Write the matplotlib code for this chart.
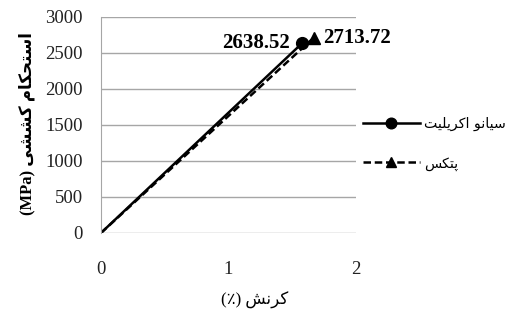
import matplotlib
matplotlib.use('Agg')
import matplotlib.pyplot as plt

# tensile strength vs strain, end points
cyano_strain = [0, 1.58]
cyano_stress = [0, 2638.52]
pattex_strain = [0, 1.67]
pattex_stress = [0, 2713.72]
y_ticks = [0, 500, 1000, 1500, 2000, 2500, 3000]
x_ticks = [0, 1, 2]

# matplotlib has no arabic shaping, so map letters to presentation forms by hand
# (isolated, final, initial, medial); None = does not join to the next letter
FORMS = {
    '\u0627': ('\uFE8D', '\uFE8E', None, None),
    '\u0633': ('\uFEB1', '\uFEB2', '\uFEB3', '\uFEB4'),
    '\u062A': ('\uFE95', '\uFE96', '\uFE97', '\uFE98'),
    '\u062D': ('\uFEA1', '\uFEA2', '\uFEA3', '\uFEA4'),
    '\u06A9': ('\uFB8E', '\uFB8F', '\uFB90', '\uFB91'),
    '\u0645': ('\uFEE1', '\uFEE2', '\uFEE3', '\uFEE4'),
    '\u0634': ('\uFEB5', '\uFEB6', '\uFEB7', '\uFEB8'),
    '\u06CC': ('\uFBFC', '\uFBFD', '\uFBFE', '\uFBFF'),
    '\u0631': ('\uFEAD', '\uFEAE', None, None),
    '\u0646': ('\uFEE5', '\uFEE6', '\uFEE7', '\uFEE8'),
    '\u0644': ('\uFEDD', '\uFEDE', '\uFEDF', '\uFEE0'),
    '\u0648': ('\uFEED', '\uFEEE', None, None),
    '\u067E': ('\uFB56', '\uFB57', '\uFB58', '\uFB59'),
}


def shape(text):
    out = []
    for i, ch in enumerate(text):
        if ch not in FORMS:
            out.append(ch)
            continue
        prev = text[i - 1] if i > 0 else ''
        nxt = text[i + 1] if i + 1 < len(text) else ''
        join_prev = prev in FORMS and FORMS[prev][2] is not None
        join_next = FORMS[ch][2] is not None and nxt in FORMS
        f = FORMS[ch]
        if join_prev and join_next:
            out.append(f[3])
        elif join_next:
            out.append(f[2])
        elif join_prev:
            out.append(f[1])
        else:
            out.append(f[0])
    return ''.join(out)[::-1]


MIXED = ['Liberation Serif', 'DejaVu Sans']

fig = plt.figure(figsize=(5.15, 3.09), dpi=100)
ax = fig.add_axes([0.196, 0.246, 0.495, 0.699])

ax.plot(cyano_strain, cyano_stress, color='black', lw=1.8, marker='o',
        markersize=8.5, markevery=[1], label=shape('سیانو اکریلیت'))
ax.plot(pattex_strain, pattex_stress, color='black', lw=1.8, ls=(0, (3, 1.5)),
        marker='^', markersize=8.5, markevery=[1], label=shape('پتکس'))

ax.annotate('2638.52', (cyano_strain[-1], cyano_stress[-1]), xytext=(-9, 0),
            textcoords='offset points', ha='right', va='center',
            family='Liberation Serif', weight='bold', fontsize=15)
ax.annotate('2713.72', (pattex_strain[-1], pattex_stress[-1]), xytext=(7, 0),
            textcoords='offset points', ha='left', va='center',
            family='Liberation Serif', weight='bold', fontsize=15)

ax.set_xlim(0, 2)
ax.set_ylim(0, 3000)
ax.set_xticks(x_ticks)
ax.set_yticks(y_ticks)
ax.grid(axis='y', color='#a6a6a6', lw=1)
ax.set_axisbelow(True)
for s in ['top', 'right', 'bottom']:
    ax.spines[s].set_visible(False)
ax.spines['left'].set_color('#a6a6a6')
ax.tick_params(length=0, labelsize=13.5)
ax.tick_params(axis='x', pad=20)
ax.tick_params(axis='y', pad=13)
for lab in ax.get_xticklabels() + ax.get_yticklabels():
    lab.set_family('Liberation Serif')
    lab.set_color('#222222')

leg = ax.legend(loc='center left', bbox_to_anchor=(0.68, 0.535), bbox_transform=fig.transFigure,
                frameon=False, handlelength=4.0, handletextpad=0.3, labelspacing=1.8,
                markerscale=0.9, prop={'family': 'DejaVu Sans', 'size': 10.2})

fig.text(0.053, 0.6, '(MPa) ' + shape('استحکام کششی'), rotation=90,
         ha='center', va='center', family=MIXED, weight='bold', fontsize=12)
fig.text(0.495, 0.027, '(\u066A) ' + shape('کرنش'), ha='center', va='center',
         family=MIXED, fontsize=12)

fig.savefig('out.png', dpi=100)
